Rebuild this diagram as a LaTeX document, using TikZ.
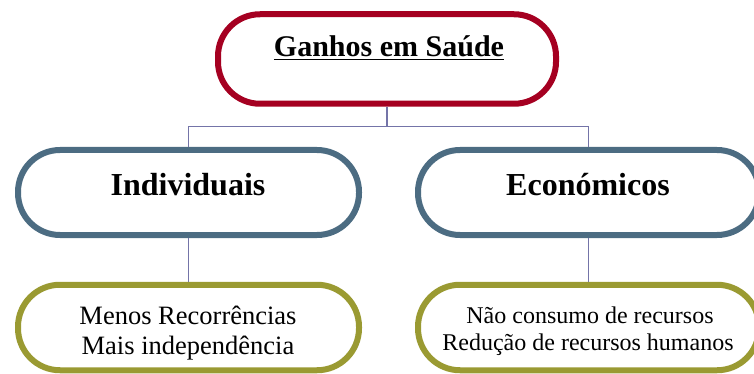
\documentclass[tikz,border=0pt]{standalone}
\usepackage{fontspec}
\setmainfont{Liberation Serif}
\definecolor{topred}{HTML}{A50021}
\definecolor{midblue}{HTML}{4C6C82}
\definecolor{botolive}{HTML}{9A9A32}
\definecolor{connc}{HTML}{7474A8}
\tikzset{
  box/.style={rectangle, rounded corners=42pt, line width=6pt, fill=white, inner sep=0pt},
  topbox/.style={box, draw=topred, minimum width=338pt, minimum height=89.5pt},
  midbox/.style={box, draw=midblue, minimum width=341pt, minimum height=85pt},
  botbox/.style={box, draw=botolive, minimum width=341pt, minimum height=85.5pt},
  conn/.style={draw=connc, line width=1.8pt},
  txt/.style={anchor=base, inner sep=0pt, text=black}
}
\begin{document}
\begin{tikzpicture}[x=1pt,y=-1pt]
\useasboundingbox (0,0) rectangle (754,374);
\clip (0,0) rectangle (754,374);
\coordinate (bus) at (387,126.5);
\node[topbox] (top) at (387,59) {};
\node[midbox] (midL) at (188.5,192.5) {};
\node[midbox] (midR) at (588.5,192.5) {};
\node[botbox] (botL) at (188.5,327.5) {};
\node[botbox] (botR) at (588.5,327.5) {};
% connectors
\draw[conn] (top.south) -- (bus);
\draw[conn] (midL.north) |- (bus) -| (midR.north);
\draw[conn] (midL.south) -- (botL.north);
\draw[conn] (midR.south) -- (botR.north);
% texts
\node[txt, font=\fontsize{30}{36}\selectfont\bfseries] (ttop) at (389,57) {\underline{Ganhos em Saúde}};
\node[txt, font=\fontsize{32}{38}\selectfont\bfseries] (tmidL) at (188,195) {Individuais};
\node[txt, font=\fontsize{32}{38}\selectfont\bfseries] (tmidR) at (588,195) {Económicos};
\node[txt, font=\fontsize{26.5}{30}\selectfont] (tbotL1) at (188,324) {Menos Recorrências};
\node[txt, font=\fontsize{26.5}{30}\selectfont] (tbotL2) at (188,354) {Mais independência};
\node[txt, font=\fontsize{24}{27}\selectfont] (tbotR1) at (590,323) {Não consumo de recursos};
\node[txt, font=\fontsize{24}{27}\selectfont] (tbotR2) at (588,350) {Redução de recursos humanos};
\end{tikzpicture}
\end{document}
